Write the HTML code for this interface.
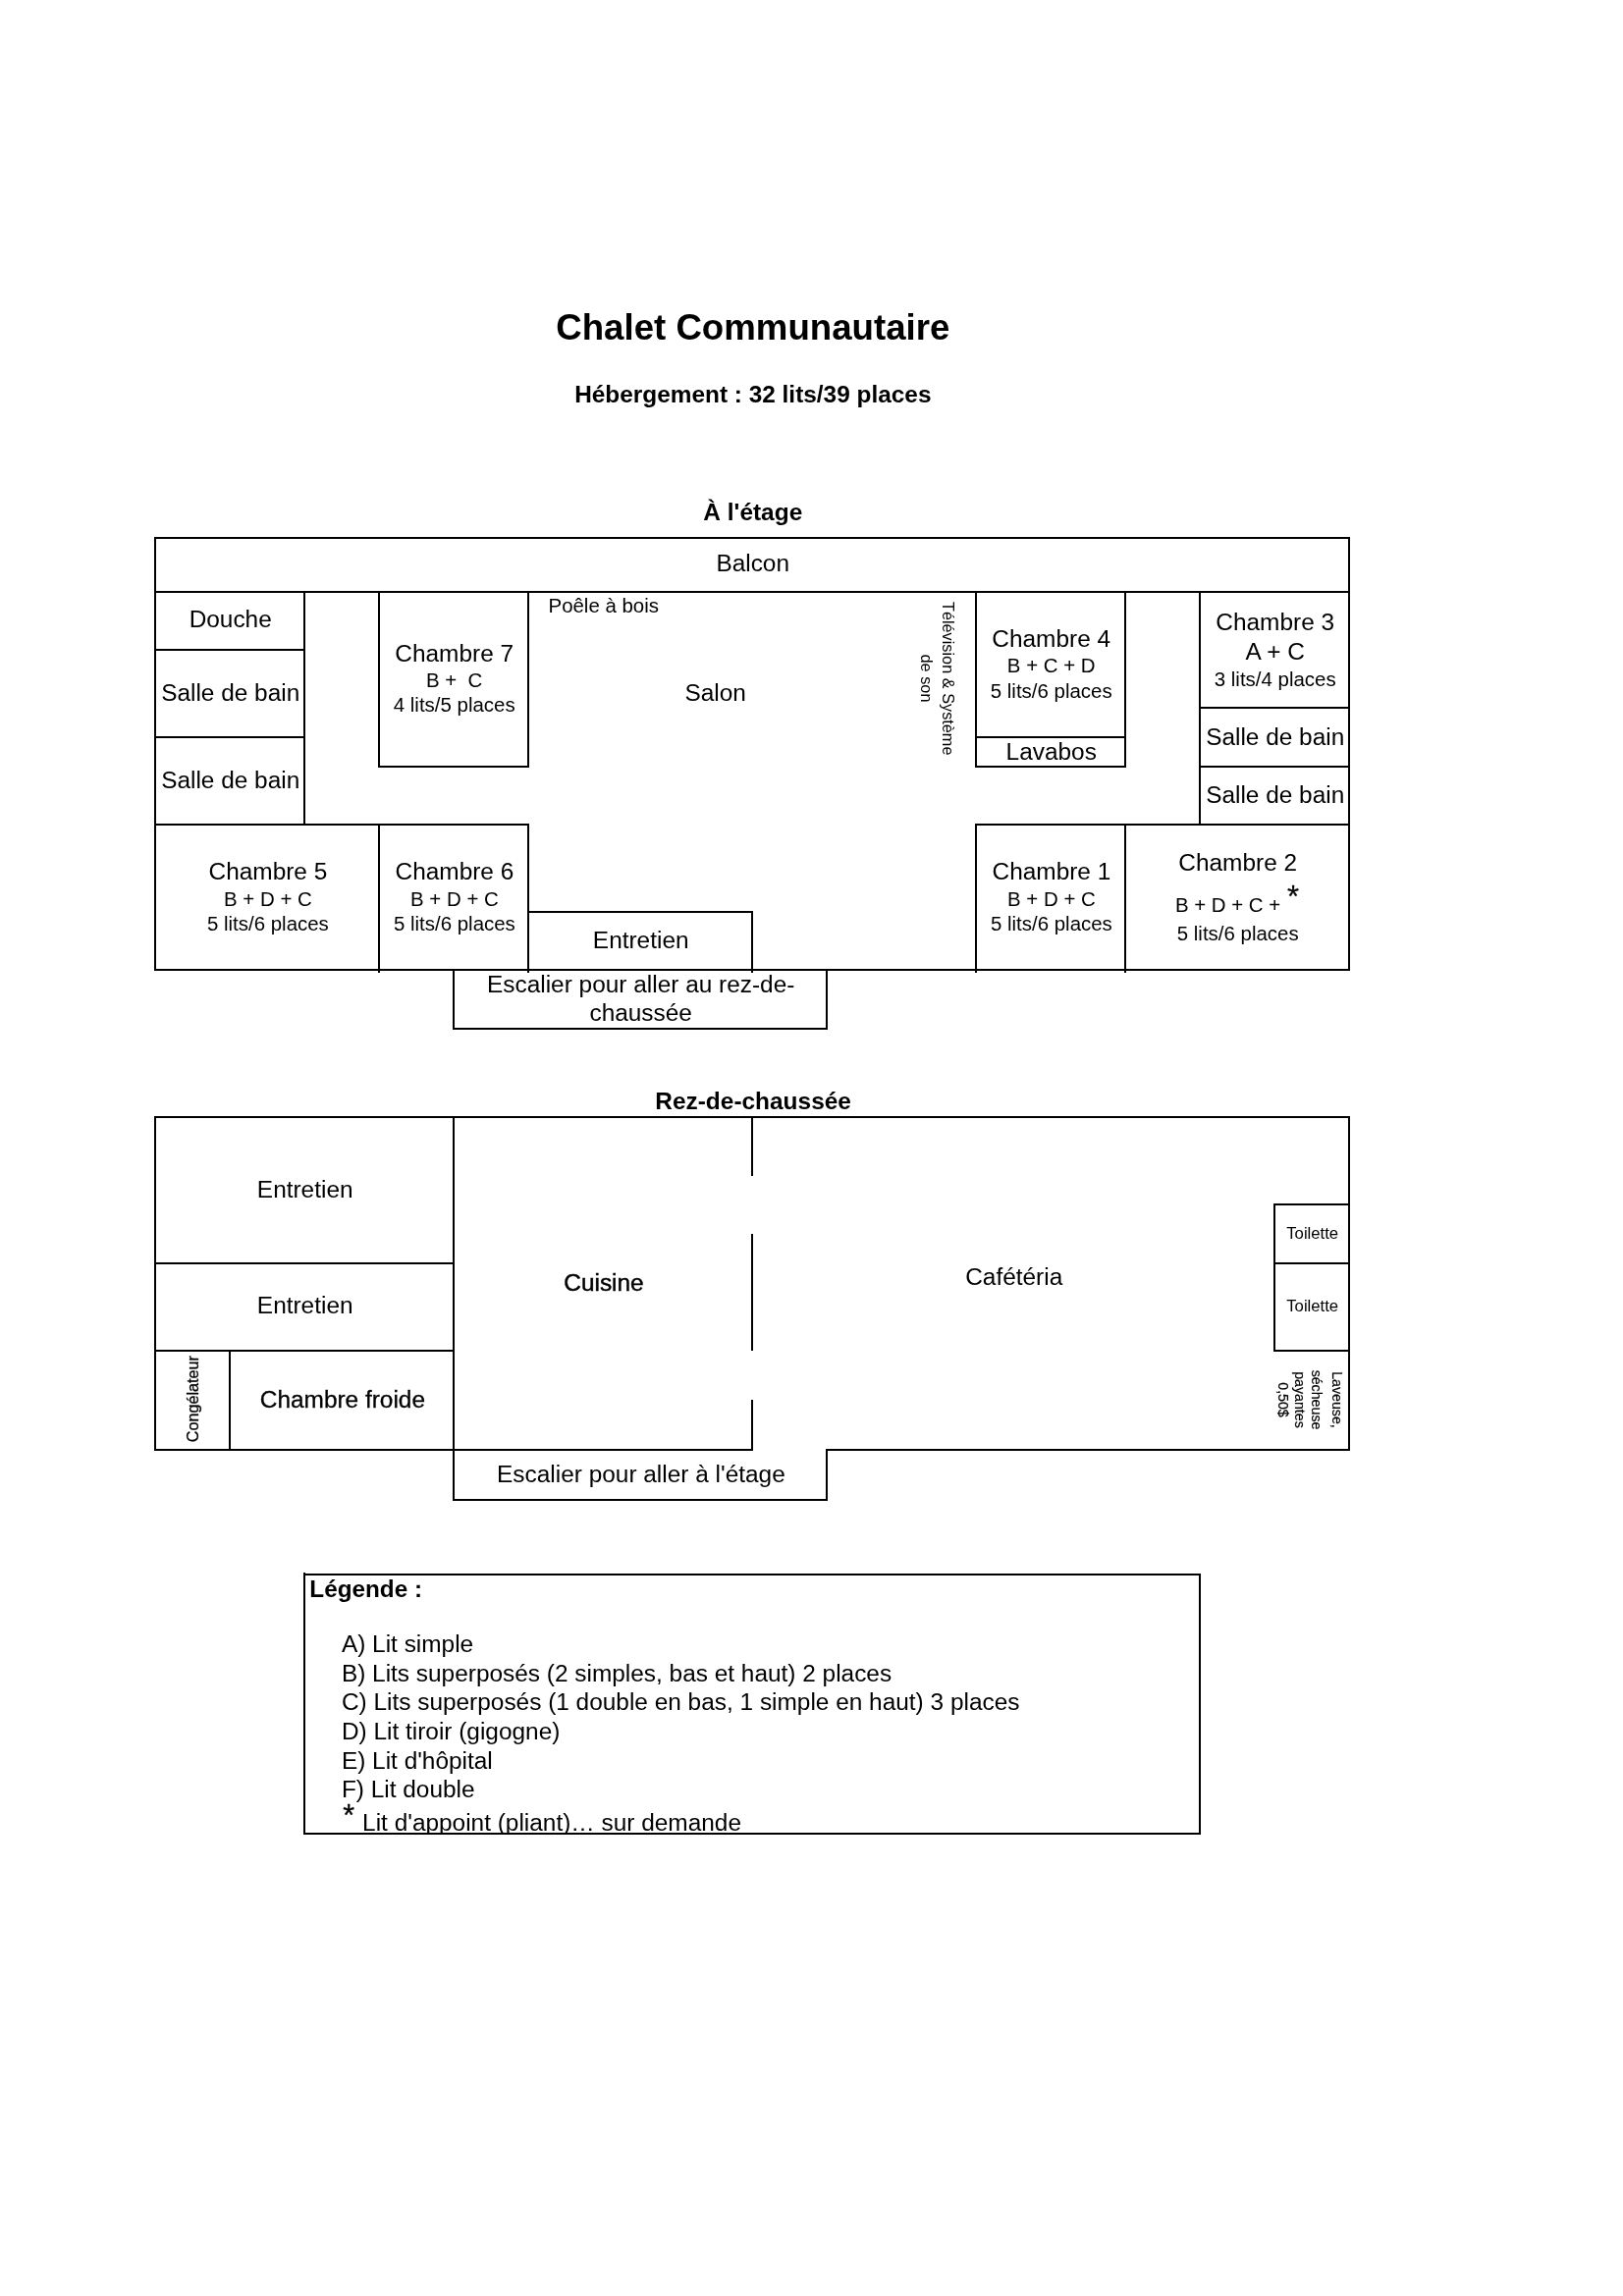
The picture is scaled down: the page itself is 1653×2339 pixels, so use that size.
<!DOCTYPE html>
<html lang="fr"><head><meta charset="utf-8"><title>Chalet Communautaire</title>
<style>html,body{margin:0;padding:0;background:#fff}body{width:1653px;height:2339px;overflow:hidden}svg{display:block;will-change:transform}text{font-family:"Liberation Sans",sans-serif;fill:#000}line{stroke:#000;stroke-width:2;shape-rendering:crispEdges}</style>
</head><body>
<svg width="1653" height="2339" viewBox="0 0 1653 2339">
<defs><clipPath id="lc"><rect x="310.3" y="1604.3" width="910" height="262"/></clipPath></defs>
<g>
<line x1="157" y1="548" x2="1375" y2="548"/>
<line x1="157" y1="603" x2="1375" y2="603"/>
<line x1="158" y1="547" x2="158" y2="989"/>
<line x1="1374" y1="547" x2="1374" y2="989"/>
<line x1="310" y1="602" x2="310" y2="841"/>
<line x1="157" y1="662" x2="311" y2="662"/>
<line x1="157" y1="751" x2="311" y2="751"/>
<line x1="157" y1="840" x2="539" y2="840"/>
<line x1="386" y1="602" x2="386" y2="782"/>
<line x1="538" y1="602" x2="538" y2="782"/>
<line x1="385" y1="781" x2="539" y2="781"/>
<line x1="994" y1="602" x2="994" y2="782"/>
<line x1="1146" y1="602" x2="1146" y2="782"/>
<line x1="993" y1="751" x2="1147" y2="751"/>
<line x1="993" y1="781" x2="1147" y2="781"/>
<line x1="1222" y1="602" x2="1222" y2="841"/>
<line x1="1221" y1="721" x2="1375" y2="721"/>
<line x1="1221" y1="781" x2="1375" y2="781"/>
<line x1="993" y1="840" x2="1375" y2="840"/>
<line x1="386" y1="839" x2="386" y2="990.5"/>
<line x1="538" y1="839" x2="538" y2="990.5"/>
<line x1="537" y1="929" x2="767" y2="929"/>
<line x1="766" y1="928" x2="766" y2="990.5"/>
<line x1="994" y1="839" x2="994" y2="990.5"/>
<line x1="1146" y1="839" x2="1146" y2="990.5"/>
<line x1="157" y1="988" x2="1375" y2="988"/>
<line x1="462" y1="987" x2="462" y2="1049"/>
<line x1="842" y1="987" x2="842" y2="1049"/>
<line x1="461" y1="1048" x2="843" y2="1048"/>
<line x1="157" y1="1138" x2="1375" y2="1138"/>
<line x1="158" y1="1137" x2="158" y2="1478"/>
<line x1="1374" y1="1137" x2="1374" y2="1478"/>
<line x1="462" y1="1137" x2="462" y2="1529"/>
<line x1="157" y1="1287" x2="463" y2="1287"/>
<line x1="157" y1="1376" x2="463" y2="1376"/>
<line x1="234" y1="1375" x2="234" y2="1478"/>
<line x1="157" y1="1477" x2="767" y2="1477"/>
<line x1="766" y1="1137" x2="766" y2="1198"/>
<line x1="766" y1="1257" x2="766" y2="1376"/>
<line x1="766" y1="1426" x2="766" y2="1478"/>
<line x1="841" y1="1477" x2="1375" y2="1477"/>
<line x1="842" y1="1476" x2="842" y2="1529"/>
<line x1="461" y1="1528" x2="843" y2="1528"/>
<line x1="1298" y1="1226" x2="1298" y2="1377"/>
<line x1="1297" y1="1227" x2="1375" y2="1227"/>
<line x1="1297" y1="1287" x2="1375" y2="1287"/>
<line x1="1297" y1="1376" x2="1375" y2="1376"/>
<line x1="309" y1="1604" x2="1223" y2="1604"/>
<line x1="309" y1="1868" x2="1223" y2="1868"/>
<line x1="310" y1="1602" x2="310" y2="1869"/>
<line x1="1222" y1="1603" x2="1222" y2="1869"/>
</g><g transform="translate(0.7,0.7)">
<text x="766.1" y="345.2" font-size="36.65" text-anchor="middle" font-weight="bold">Chalet Communautaire</text>
<text x="766.1" y="409.4" font-size="24.4" text-anchor="middle" font-weight="bold">Hébergement : 32 lits/39 places</text>
<text x="766.1" y="529" font-size="24.45" text-anchor="middle" font-weight="bold">À l'étage</text>
<text x="766" y="581.7" font-size="24.42" text-anchor="middle">Balcon</text>
<text x="234.0" y="638.8" font-size="24.42" text-anchor="middle">Douche</text>
<text x="234.0" y="713.1" font-size="24.42" text-anchor="middle">Salle de bain</text>
<text x="234.0" y="802.3" font-size="24.42" text-anchor="middle">Salle de bain</text>
<text x="462.0" y="673.3" font-size="24.42" text-anchor="middle">Chambre 7</text>
<text x="462.0" y="699.3" font-size="20.45" text-anchor="middle">B +&#160; C</text>
<text x="462.0" y="724.6" font-size="20.45" text-anchor="middle">4 lits/5 places</text>
<text x="557.8" y="623.1" font-size="20.45" text-anchor="start">Poêle à bois</text>
<text x="728.0" y="713.5" font-size="24.42" text-anchor="middle">Salon</text>
<text x="1070.0" y="658.8" font-size="24.42" text-anchor="middle">Chambre 4</text>
<text x="1070.0" y="684.8" font-size="20.45" text-anchor="middle">B + C + D</text>
<text x="1070.0" y="710.3" font-size="20.45" text-anchor="middle">5 lits/6 places</text>
<text x="1070.0" y="773.3" font-size="24.42" text-anchor="middle">Lavabos</text>
<text x="1298.0" y="641.0" font-size="24.42" text-anchor="middle">Chambre 3</text>
<text x="1298.0" y="671.5" font-size="24.42" text-anchor="middle">A + C</text>
<text x="1298.0" y="698" font-size="20.45" text-anchor="middle">3 lits/4 places</text>
<text x="1298.0" y="758.2" font-size="24.42" text-anchor="middle">Salle de bain</text>
<text x="1298.0" y="817.3" font-size="24.42" text-anchor="middle">Salle de bain</text>
<text x="272.2" y="895.6" font-size="24.42" text-anchor="middle">Chambre 5</text>
<text x="272.2" y="921.9" font-size="20.45" text-anchor="middle">B + D + C</text>
<text x="272.2" y="947.2" font-size="20.45" text-anchor="middle">5 lits/6 places</text>
<text x="462.2" y="895.6" font-size="24.42" text-anchor="middle">Chambre 6</text>
<text x="462.2" y="921.9" font-size="20.45" text-anchor="middle">B + D + C</text>
<text x="462.2" y="947.2" font-size="20.45" text-anchor="middle">5 lits/6 places</text>
<text x="1070.2" y="895.6" font-size="24.42" text-anchor="middle">Chambre 1</text>
<text x="1070.2" y="921.9" font-size="20.45" text-anchor="middle">B + D + C</text>
<text x="1070.2" y="947.2" font-size="20.45" text-anchor="middle">5 lits/6 places</text>
<text x="1260.0" y="886.3" font-size="24.42" text-anchor="middle">Chambre 2</text>
<text x="1196.2" y="928.3" font-size="20.45" text-anchor="start">B + D + C +</text>
<text x="1310.4" y="922.9" font-size="31" text-anchor="start" stroke="#000" stroke-width="0.3">*</text>
<text x="1260.0" y="957" font-size="20.45" text-anchor="middle">5 lits/6 places</text>
<text x="652.0" y="965.5" font-size="24.42" text-anchor="middle">Entretien</text>
<text x="652.0" y="1010" font-size="24.42" text-anchor="middle">Escalier pour aller au rez-de-</text>
<text x="652.0" y="1039.8" font-size="24.42" text-anchor="middle">chaussée</text>
<text transform="translate(959,690.5) rotate(90)" font-size="16.3" text-anchor="middle">Télévision &amp; Système</text>
<text transform="translate(937.3,690.3) rotate(90)" font-size="16.3" text-anchor="middle">de son</text>
<text x="766.4" y="1128.9" font-size="24.45" text-anchor="middle" font-weight="bold">Rez-de-chaussée</text>
<text x="310.0" y="1219" font-size="24.42" text-anchor="middle">Entretien</text>
<text x="310.0" y="1337.8" font-size="24.42" text-anchor="middle">Entretien</text>
<text x="348.2" y="1433.2" font-size="24.42" text-anchor="middle" stroke="#000" stroke-width="0.3">Chambre froide</text>
<text x="614.3" y="1314.8" font-size="24.42" text-anchor="middle" stroke="#000" stroke-width="0.45">Cuisine</text>
<text x="1032.0" y="1308.7" font-size="24.42" text-anchor="middle">Cafétéria</text>
<text x="1336.0" y="1261.2" font-size="16.7" text-anchor="middle">Toilette</text>
<text x="1336.0" y="1335.0" font-size="16.7" text-anchor="middle">Toilette</text>
<text x="652.2" y="1509.4" font-size="24.42" text-anchor="middle">Escalier pour aller à l'étage</text>
<text transform="translate(201,1424.5) rotate(-90)" font-size="16.2" text-anchor="middle" stroke="#000" stroke-width="0.3">Congélateur</text>
<text transform="translate(1355.8,1425.3) rotate(90)" font-size="14.2" text-anchor="middle" stroke="#000" stroke-width="0.2">Laveuse,</text>
<text transform="translate(1335.6,1425.3) rotate(90)" font-size="14.2" text-anchor="middle" stroke="#000" stroke-width="0.2">sécheuse</text>
<text transform="translate(1318.3,1425.3) rotate(90)" font-size="14.2" text-anchor="middle" stroke="#000" stroke-width="0.2">payantes</text>
<text transform="translate(1300.8,1425.3) rotate(90)" font-size="14.2" text-anchor="middle" stroke="#000" stroke-width="0.2">0,50$</text>
<text x="314.6" y="1626" font-size="24.3" text-anchor="start" font-weight="bold">Légende :</text>
<text x="347.2" y="1682.3" font-size="24.42" text-anchor="start">A) Lit simple</text>
<text x="347.2" y="1711.94" font-size="24.42" text-anchor="start">B) Lits superposés (2 simples, bas et haut) 2 places</text>
<text x="347.2" y="1741.58" font-size="24.42" text-anchor="start">C) Lits superposés (1 double en bas, 1 simple en haut) 3 places</text>
<text x="347.2" y="1771.22" font-size="24.42" text-anchor="start">D) Lit tiroir (gigogne)</text>
<text x="347.2" y="1800.86" font-size="24.42" text-anchor="start">E) Lit d'hôpital</text>
<text x="347.2" y="1830.5" font-size="24.42" text-anchor="start">F) Lit double</text>
<g clip-path="url(#lc)"><text x="348.6" y="1859.6" font-size="30.5" text-anchor="start" stroke="#000" stroke-width="0.3">*</text><text x="368.4" y="1864.8" font-size="24.42" text-anchor="start">Lit d'appoint (pliant)… sur demande</text></g>
</g></svg></body></html>
